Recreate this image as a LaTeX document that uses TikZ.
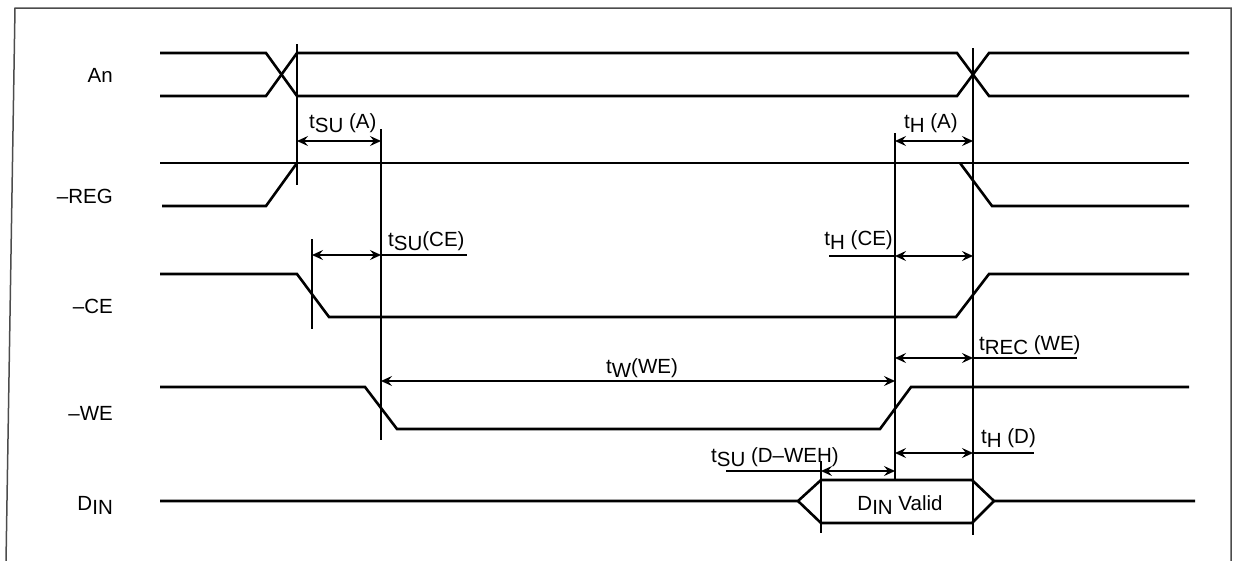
\documentclass[tikz,border=0pt]{standalone}
\usepackage{fontspec}
\setmainfont{Liberation Sans}
\usetikzlibrary{arrows.meta}
\newcommand{\lowsub}[1]{\raisebox{-4pt}{#1}}
\begin{document}
\begin{tikzpicture}[x=1pt,y=-1pt,
  sig/.style={line width=2.6pt, line join=miter},
  tmark/.style={line width=1.6pt},
  dim/.style={line width=1.4pt, {Stealth[length=11pt,width=10pt,inset=4pt]}-{Stealth[length=11pt,width=10pt,inset=4pt]}},
  ext/.style={line width=1.4pt},
  lbl/.style={font=\fontsize{20.5}{24}\selectfont, inner sep=0pt},
  frame/.style={line width=1.5pt, draw=black!70}]
\useasboundingbox (0,0) rectangle (1233,560);
\draw[frame] (6,562) -- (15,8) -- (1231,8) -- (1231,562);

% signal names
\node[lbl, anchor=base east] (nAn)  at (113,82)  {An};
\node[lbl, anchor=base east] (nREG) at (113,203) {–REG};
\node[lbl, anchor=base east] (nCE)  at (113,313) {–CE};
\node[lbl, anchor=base east] (nWE)  at (113,420) {–WE};
\node[lbl, anchor=base east] (nDIN) at (113,510) {D\lowsub{IN}};

% waveforms
\draw[sig] (160,53) -- (266,53) -- (297,96) -- (957,96) -- (989,53) -- (1189,53);
\draw[sig] (160,96) -- (266,96) -- (297,53) -- (957,53) -- (989,96) -- (1189,96);
\draw[sig] (160,163) -- (1189,163);
\draw[sig] (162,206) -- (266,206) -- (297,163);
\draw[sig] (960,163) -- (992,206) -- (1189,206);
\draw[sig] (160,274) -- (297,274) -- (329,317) -- (956,317) -- (989,274) -- (1189,274);
\draw[sig] (160,387) -- (365,387) -- (397,429) -- (880,429) -- (911,387) -- (1189,387);
\draw[sig] (160,501) -- (798,501) -- (821,480) -- (972,480) -- (994,501) -- (1195,501);
\draw[sig] (798,501) -- (821,523) -- (972,523) -- (994,501);
\node[lbl, anchor=base] (valid) at (900,510) {D\lowsub{IN} Valid};

% timing marker lines
\coordinate (v1t) at (297,44);  \coordinate (v1b) at (297,185);
\coordinate (v2t) at (381,129); \coordinate (v2b) at (381,440);
\coordinate (v3t) at (312,239); \coordinate (v3b) at (312,329);
\coordinate (v4t) at (895,133); \coordinate (v4b) at (895,480);
\coordinate (v5t) at (973,48);  \coordinate (v5b) at (973,535);
\coordinate (v6t) at (821,461); \coordinate (v6b) at (821,533);
\foreach \v in {v1,v2,v3,v4,v5,v6} \draw[tmark] (\v t) -- (\v b);

% dimension arrows
\coordinate (a1l) at (297,141); \coordinate (a1r) at (381,141);
\draw[dim] (a1l) -- (a1r);
\node[lbl, anchor=base west] (tsua) at (309,128) {t\lowsub{SU} (A)};

\coordinate (a2l) at (312,255); \coordinate (a2r) at (381,255); \coordinate (a2e) at (467,255);
\draw[dim] (a2l) -- (a2r);
\draw[ext] (a2r) -- (a2e);
\node[lbl, anchor=base west] (tsuce) at (388,246) {t\lowsub{SU}(CE)};

\coordinate (a3l) at (895,141); \coordinate (a3r) at (973,141);
\draw[dim] (a3l) -- (a3r);
\node[lbl, anchor=base west] (tha) at (904,128) {t\lowsub{H} (A)};

\coordinate (a4l) at (895,256); \coordinate (a4r) at (973,256); \coordinate (a4e) at (829,256);
\draw[dim] (a4l) -- (a4r);
\draw[ext] (a4e) -- (a4l);
\node[lbl, anchor=base east] (thce) at (893,245) {t\lowsub{H} (CE)};

\coordinate (a5l) at (381,381); \coordinate (a5r) at (895,381);
\draw[dim] (a5l) -- (a5r);
\node[lbl, anchor=base] (tw) at (642,373) {t\lowsub{W}(WE)};

\coordinate (a6l) at (895,358); \coordinate (a6r) at (973,358); \coordinate (a6e) at (1077,358);
\draw[dim] (a6l) -- (a6r);
\draw[ext] (a6r) -- (a6e);
\node[lbl, anchor=base west] (trec) at (979,350) {t\lowsub{REC} (WE)};

\coordinate (a7l) at (895,453); \coordinate (a7r) at (973,453); \coordinate (a7e) at (1034,453);
\draw[dim] (a7l) -- (a7r);
\draw[ext] (a7r) -- (a7e);
\node[lbl, anchor=base west] (thd) at (981,443) {t\lowsub{H} (D)};

\coordinate (a8l) at (821,471); \coordinate (a8r) at (895,471); \coordinate (a8e) at (726,471);
\draw[dim] (a8l) -- (a8r);
\draw[ext] (a8e) -- (a8l);
\node[lbl, anchor=base west] (tsud) at (711,462) {t\lowsub{SU} (D–WEH)};
\end{tikzpicture}
\end{document}
